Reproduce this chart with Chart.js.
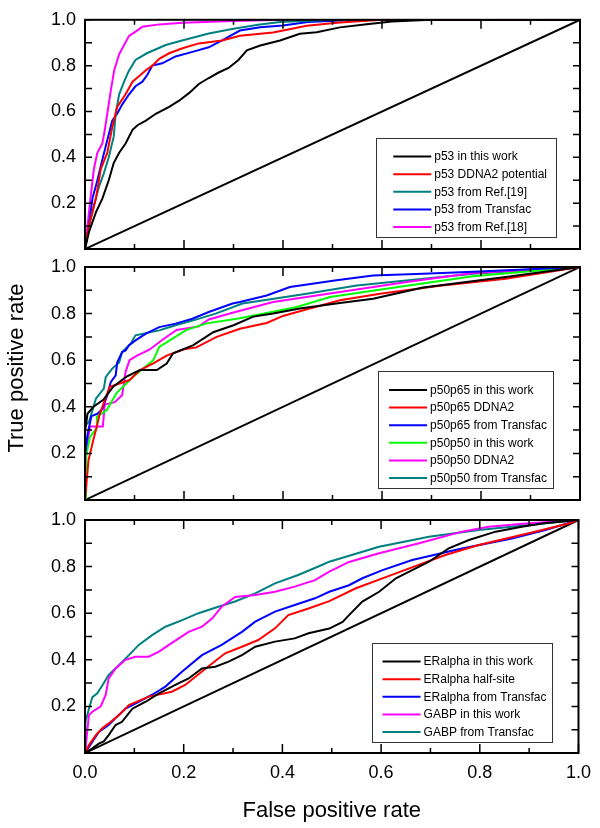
<!DOCTYPE html>
<html>
<head>
<meta charset="utf-8">
<script src="https://cdn.jsdelivr.net/npm/chart.js@4.4.1/dist/chart.umd.min.js"></script>
<style>
  body { margin: 0; background: #fff; }
  #wrap { position: relative; width: 600px; height: 828px; }
  #wrap canvas { position: absolute; left: 0; top: 0; }
  #ytitle {
    position: absolute; left: 16px; top: 368px; width: 240px;
    font: 22px "Liberation Sans", Arial, sans-serif; text-align: center;
    transform: translate(-50%, -50%) rotate(-90deg); white-space: nowrap; color: #000;
  }
</style>
</head>
<body>
<div id="wrap">
  <canvas id="c1" width="600" height="828"></canvas>
  <canvas id="c2" width="600" height="828"></canvas>
  <canvas id="c3" width="600" height="828"></canvas>
  <div id="ytitle">True positive rate</div>
</div>
<script>
// ROC points as [false positive rate, true positive rate]
const diagonal = [[0, 0], [1, 1]];

// panel 1: p53
const p53Labels = ['p53 in this work', 'p53 DDNA2 potential', 'p53 from Ref.[19]', 'p53 from Transfac', 'p53 from Ref.[18]'];
const p53ThisWork = [[0,0],[0.008,0.074],[0.022,0.16],[0.035,0.22],[0.048,0.30],[0.058,0.375],[0.069,0.42],[0.082,0.46],[0.096,0.52],[0.106,0.54],[0.123,0.56],[0.143,0.59],[0.17,0.62],[0.19,0.647],[0.21,0.68],[0.23,0.72],[0.25,0.746],[0.27,0.77],[0.29,0.79],[0.31,0.825],[0.327,0.867],[0.354,0.888],[0.394,0.91],[0.434,0.939],[0.468,0.946],[0.515,0.967],[0.569,0.981],[0.62,0.993],[0.7,1],[1,1]];
const p53Ddna2 = [[0,0],[0.008,0.10],[0.022,0.22],[0.032,0.35],[0.045,0.42],[0.055,0.53],[0.065,0.62],[0.082,0.675],[0.096,0.73],[0.109,0.754],[0.123,0.78],[0.136,0.80],[0.15,0.83],[0.17,0.854],[0.197,0.876],[0.23,0.897],[0.277,0.91],[0.313,0.93],[0.38,0.945],[0.448,0.974],[0.515,0.988],[0.6,1],[1,1]];
const p53Ref19 = [[0,0],[0.008,0.10],[0.018,0.19],[0.028,0.27],[0.038,0.33],[0.048,0.40],[0.058,0.49],[0.062,0.59],[0.069,0.675],[0.079,0.73],[0.088,0.775],[0.102,0.825],[0.125,0.854],[0.163,0.89],[0.198,0.911],[0.25,0.94],[0.30,0.961],[0.35,0.978],[0.394,0.99],[0.5,1],[1,1]];
const p53Transfac = [[0,0],[0.008,0.10],[0.015,0.22],[0.025,0.30],[0.035,0.39],[0.045,0.475],[0.055,0.56],[0.065,0.59],[0.075,0.63],[0.089,0.675],[0.102,0.71],[0.116,0.73],[0.126,0.76],[0.136,0.80],[0.156,0.81],[0.183,0.84],[0.217,0.86],[0.25,0.88],[0.277,0.91],[0.313,0.953],[0.354,0.967],[0.40,0.975],[0.45,0.99],[0.55,1],[1,1]];
const p53Ref18 = [[0,0],[0.005,0.10],[0.011,0.22],[0.018,0.35],[0.025,0.42],[0.035,0.46],[0.04,0.52],[0.045,0.59],[0.052,0.69],[0.059,0.78],[0.069,0.85],[0.079,0.89],[0.089,0.93],[0.106,0.954],[0.116,0.97],[0.15,0.98],[0.197,0.987],[0.3,0.995],[0.4,1],[1,1]];

// panel 2: p50p65 / p50p50
const nfkbLabels = ['p50p65 in this work', 'p50p65 DDNA2', 'p50p65 from Transfac', 'p50p50 in this work', 'p50p50 DDNA2', 'p50p50 from Transfac'];
const p50p65ThisWork = [[0,0],[0,0.29],[0.005,0.37],[0.017,0.40],[0.037,0.43],[0.057,0.486],[0.084,0.53],[0.111,0.558],[0.145,0.558],[0.165,0.586],[0.178,0.63],[0.219,0.665],[0.259,0.72],[0.30,0.75],[0.34,0.787],[0.38,0.80],[0.434,0.822],[0.515,0.845],[0.582,0.864],[0.683,0.912],[0.85,0.957],[1,1]];
const p50p65Ddna2 = [[0,0],[0.003,0.07],[0.007,0.17],[0.017,0.26],[0.022,0.30],[0.03,0.37],[0.05,0.486],[0.07,0.50],[0.09,0.515],[0.111,0.558],[0.138,0.586],[0.165,0.62],[0.20,0.647],[0.225,0.655],[0.266,0.70],[0.313,0.735],[0.367,0.76],[0.40,0.79],[0.434,0.81],[0.515,0.857],[0.596,0.885],[0.717,0.92],[0.85,0.95],[1,1]];
const p50p65Transfac = [[0,0],[0,0.19],[0.005,0.28],[0.013,0.36],[0.025,0.37],[0.035,0.39],[0.045,0.45],[0.052,0.506],[0.062,0.535],[0.065,0.59],[0.075,0.635],[0.082,0.642],[0.089,0.664],[0.102,0.685],[0.123,0.714],[0.15,0.742],[0.183,0.757],[0.217,0.778],[0.25,0.807],[0.298,0.843],[0.313,0.85],[0.367,0.878],[0.414,0.914],[0.508,0.943],[0.582,0.964],[0.683,0.971],[0.784,0.98],[1,1]];
const p50p50ThisWork = [[0,0],[0.002,0.186],[0.01,0.27],[0.024,0.31],[0.024,0.357],[0.044,0.386],[0.064,0.46],[0.098,0.53],[0.138,0.60],[0.15,0.657],[0.205,0.73],[0.246,0.758],[0.313,0.78],[0.428,0.828],[0.495,0.871],[0.65,0.92],[0.784,0.96],[1,1]];
const p50p50Ddna2 = [[0,0],[0.003,0.215],[0.01,0.315],[0.036,0.315],[0.04,0.41],[0.06,0.42],[0.075,0.45],[0.082,0.55],[0.09,0.60],[0.105,0.62],[0.13,0.645],[0.158,0.69],[0.185,0.73],[0.23,0.745],[0.25,0.775],[0.30,0.805],[0.38,0.85],[0.515,0.893],[0.65,0.936],[0.784,0.974],[1,1]];
const p50p50Transfac = [[0,0],[0,0.32],[0.008,0.335],[0.022,0.435],[0.038,0.478],[0.042,0.528],[0.055,0.564],[0.069,0.59],[0.075,0.635],[0.092,0.67],[0.102,0.707],[0.15,0.728],[0.183,0.75],[0.217,0.77],[0.264,0.80],[0.318,0.843],[0.448,0.885],[0.549,0.921],[0.784,0.971],[1,1]];

// panel 3: ERalpha / GABP
const erLabels = ['ERalpha in this work', 'ERalpha half-site', 'ERalpha from Transfac', 'GABP in this work', 'GABP from Transfac'];
const eraThisWork = [[0,0],[0.015,0.02],[0.028,0.04],[0.038,0.05],[0.048,0.077],[0.062,0.12],[0.075,0.134],[0.096,0.19],[0.123,0.22],[0.15,0.256],[0.183,0.292],[0.21,0.32],[0.237,0.363],[0.264,0.37],[0.291,0.392],[0.318,0.42],[0.345,0.456],[0.385,0.478],[0.425,0.492],[0.453,0.514],[0.495,0.534],[0.522,0.563],[0.535,0.592],[0.562,0.65],[0.596,0.692],[0.63,0.75],[0.663,0.785],[0.697,0.821],[0.737,0.878],[0.778,0.914],[0.832,0.95],[0.885,0.971],[0.93,0.986],[1,1]];
const eraHalfSite = [[0,0],[0.008,0.034],[0.022,0.077],[0.035,0.106],[0.048,0.127],[0.069,0.163],[0.089,0.206],[0.129,0.242],[0.176,0.263],[0.203,0.292],[0.237,0.35],[0.284,0.428],[0.318,0.456],[0.351,0.485],[0.385,0.535],[0.412,0.592],[0.453,0.62],[0.495,0.652],[0.549,0.707],[0.63,0.771],[0.73,0.85],[0.798,0.893],[0.899,0.943],[0.98,0.985],[1,1]];
const eraTransfac = [[0,0],[0.015,0.049],[0.028,0.09],[0.048,0.12],[0.062,0.15],[0.082,0.19],[0.109,0.22],[0.136,0.25],[0.163,0.285],[0.197,0.35],[0.237,0.42],[0.277,0.464],[0.318,0.52],[0.345,0.564],[0.385,0.607],[0.425,0.635],[0.466,0.664],[0.495,0.692],[0.535,0.72],[0.562,0.75],[0.603,0.785],[0.663,0.828],[0.764,0.878],[0.865,0.921],[0.933,0.957],[1,1]];
const gabpThisWork = [[0,0],[0.008,0.163],[0.015,0.177],[0.032,0.20],[0.042,0.25],[0.048,0.32],[0.062,0.363],[0.082,0.40],[0.102,0.413],[0.129,0.413],[0.15,0.435],[0.17,0.464],[0.19,0.492],[0.21,0.52],[0.237,0.542],[0.258,0.578],[0.277,0.628],[0.304,0.67],[0.345,0.678],[0.385,0.692],[0.425,0.714],[0.466,0.742],[0.495,0.778],[0.535,0.82],[0.596,0.857],[0.677,0.90],[0.764,0.95],[0.818,0.971],[0.9,0.986],[1,1]];
const gabpTransfac = [[0,0],[0.001,0.134],[0.008,0.19],[0.015,0.24],[0.025,0.256],[0.035,0.29],[0.048,0.335],[0.069,0.378],[0.089,0.42],[0.109,0.464],[0.136,0.506],[0.163,0.542],[0.197,0.57],[0.23,0.60],[0.27,0.628],[0.304,0.65],[0.345,0.685],[0.385,0.728],[0.432,0.764],[0.48,0.807],[0.495,0.821],[0.596,0.885],[0.697,0.928],[0.798,0.957],[0.899,0.979],[1,1]];

const xTicks = ['0.0', '0.2', '0.4', '0.6', '0.8', '1.0'];

const BLACK = '#000000', RED = '#ff0000', BLUE = '#0000ff', GREEN = '#00ff00', MAGENTA = '#ff00ff', TEAL = '#008080';

Chart.defaults.font.family = '"Liberation Sans", Arial, sans-serif';
Chart.defaults.color = '#000';

// frame with inward ticks on all four sides + boxed legend
const framePlugin = {
  id: 'frame',
  afterDraw(chart, args, opts) {
    const { ctx, chartArea: a } = chart;
    const x = chart.scales.x, y = chart.scales.y;
    ctx.save();
    ctx.strokeStyle = '#000';
    ctx.lineWidth = 1.5;
    ctx.beginPath();
    for (let i = 0; i <= 10; i++) {
      const v = i / 10;
      const len = i % 2 === 0 ? 9 : 5;
      const px = x.getPixelForValue(v);
      ctx.moveTo(px, a.bottom); ctx.lineTo(px, a.bottom - len);
      ctx.moveTo(px, a.top); ctx.lineTo(px, a.top + len);
      const py = y.getPixelForValue(v);
      ctx.moveTo(a.left, py); ctx.lineTo(a.left + 7, py);
      ctx.moveTo(a.right, py); ctx.lineTo(a.right - 7, py);
    }
    ctx.stroke();
    ctx.lineWidth = 2;
    ctx.strokeRect(a.left, a.top, a.right - a.left, a.bottom - a.top);

    // legend box
    const items = chart.data.datasets.filter(d => d.label);
    ctx.font = '12px "Liberation Sans", Arial, sans-serif';
    const textW = Math.max(...items.map(d => ctx.measureText(d.label).width));
    const rowH = 17.6, sample = 38;
    const w = opts.padLeft + sample + 3 + textW + opts.padRight;
    const h = 19 + (items.length - 1) * rowH + 10;
    const bx = a.right - opts.right - w, by = a.bottom - opts.bottom - h;
    ctx.fillStyle = '#fff';
    ctx.fillRect(bx, by, w, h);
    ctx.lineWidth = 1;
    ctx.strokeStyle = '#333';
    ctx.strokeRect(Math.round(bx) + 0.5, Math.round(by) + 0.5, Math.round(w), Math.round(h));
    ctx.textBaseline = 'middle';
    ctx.textAlign = 'left';
    items.forEach((d, i) => {
      const ry = by + 19 + i * rowH;
      const sx = bx + opts.padLeft;
      ctx.strokeStyle = d.borderColor;
      ctx.lineWidth = 2;
      ctx.beginPath();
      ctx.moveTo(sx, ry); ctx.lineTo(sx + sample, ry);
      ctx.stroke();
      ctx.fillStyle = '#000';
      ctx.fillText(d.label, sx + sample + 3, ry + 0.5);
    });
    ctx.restore();
  }
};

function makeChart(id, series, labels, colors, pad, showX, legend) {
  const datasets = series.map((s, i) => ({
    label: labels[i],
    data: s.map(p => ({ x: p[0], y: p[1] })),
    borderColor: colors[i],
    borderWidth: 2,
    pointRadius: 0,
    fill: false,
    tension: 0
  }));
  datasets.push({
    label: '',
    data: diagonal.map(p => ({ x: p[0], y: p[1] })),
    borderColor: BLACK,
    borderWidth: 2,
    pointRadius: 0,
    fill: false
  });
  return new Chart(document.getElementById(id), {
    type: 'line',
    data: { datasets: datasets },
    options: {
      responsive: false,
      animation: false,
      events: [],
      layout: { padding: pad },
      plugins: { legend: { display: false }, tooltip: { enabled: false }, frame: legend },
      scales: {
        x: {
          type: 'linear', min: 0, max: 1,
          display: showX,
          grid: { display: false, drawTicks: false },
          border: { display: false },
          ticks: {
            stepSize: 0.2, padding: 9,
            font: { size: 18 },
            callback: (v) => xTicks[Math.round(v * 5)]
          },
          title: { display: true, text: 'False positive rate', font: { size: 22 }, padding: { top: 0, bottom: 4 } },
          afterFit: (s) => { s.height = showX ? 75 : 0; }
        },
        y: {
          type: 'linear', min: 0, max: 1,
          grid: { display: false, drawTicks: false },
          border: { display: false },
          ticks: {
            stepSize: 0.2, padding: 9,
            font: { size: 18 },
            callback: (v) => (v < 0.01 ? '' : v.toFixed(1))
          },
          afterFit: (s) => { s.width = 85; }
        }
      }
    },
    plugins: [framePlugin]
  });
}

makeChart('c1',
  [p53ThisWork, p53Ddna2, p53Ref19, p53Transfac, p53Ref18],
  p53Labels, [BLACK, RED, TEAL, BLUE, MAGENTA],
  { top: 16, bottom: 579, left: 0, right: 20 }, false,
  { right: 24, bottom: 12, padLeft: 17, padRight: 9 });

makeChart('c2',
  [p50p65ThisWork, p50p65Ddna2, p50p65Transfac, p50p50ThisWork, p50p50Ddna2, p50p50Transfac],
  nfkbLabels, [BLACK, RED, BLUE, GREEN, MAGENTA, TEAL],
  { top: 267, bottom: 328, left: 0, right: 20 }, false,
  { right: 27, bottom: 12, padLeft: 11, padRight: 6 });

makeChart('c3',
  [eraThisWork, eraHalfSite, eraTransfac, gabpThisWork, gabpTransfac],
  erLabels, [BLACK, RED, BLUE, MAGENTA, TEAL],
  { top: 520, bottom: 0, left: 0, right: 20 }, true,
  { right: 27, bottom: 11, padLeft: 11, padRight: 5 });
</script>
</body>
</html>
